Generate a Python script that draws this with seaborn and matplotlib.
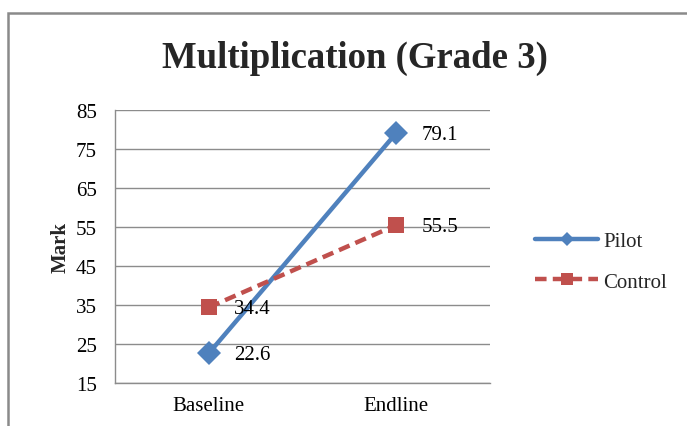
import matplotlib
matplotlib.use("Agg")
import matplotlib.pyplot as plt
import seaborn as sns
import pandas as pd
from matplotlib.patches import Rectangle
from matplotlib.lines import Line2D

categories = ["Baseline", "Endline"]
pilot = [22.6, 79.1]
control = [34.4, 55.5]
y_ticks = [15, 25, 35, 45, 55, 65, 75, 85]

sns.set_theme(style="white")
plt.rcParams["font.family"] = ["Liberation Serif", "DejaVu Serif"]

df = pd.DataFrame({
    "period": categories * 2,
    "mark": pilot + control,
    "group": ["Pilot"] * 2 + ["Control"] * 2,
})

fig = plt.figure(figsize=(6.87, 4.27), dpi=100)
ax = fig.add_axes([0.1674, 0.1007, 0.5458, 0.6393])

palette = {"Pilot": "#4F81BD", "Control": "#C0504D"}
sns.lineplot(data=df, x="period", y="mark", hue="group", style="group",
             palette=palette,
             markers={"Pilot": "D", "Control": "s"},
             dashes={"Pilot": "", "Control": (2.6, 1.4)},
             markersize=12, linewidth=3.2, markeredgewidth=0,
             sort=False, ax=ax, legend=False, zorder=3)

ax.set_xlim(-0.5, 1.5)
ax.set_ylim(15, 85)
ax.set_yticks(y_ticks)
ax.set_yticklabels([str(t) for t in y_ticks])
ax.tick_params(axis="both", length=0, labelsize=15, colors="#000000")
ax.tick_params(axis="y", pad=13)
ax.tick_params(axis="x", pad=9)
ax.set_xlabel("")
ax.set_ylabel("Mark", fontsize=15, fontweight="bold", labelpad=4)
ax.yaxis.grid(True, color="#8c8c8c", linewidth=1.0)
ax.xaxis.grid(False)
for side in ["top", "right"]:
    ax.spines[side].set_visible(False)
for side in ["left", "bottom"]:
    ax.spines[side].set_color("#8c8c8c")
    ax.spines[side].set_linewidth(1.0)

# value labels beside each point
for series in (pilot, control):
    for i, v in enumerate(series):
        ax.annotate(f"{v:.1f}", (i, v), xytext=(18, -1), textcoords="offset points",
                    va="center", ha="left", fontsize=15, color="#000000", zorder=4)

fig.text(0.517, 0.864, "Multiplication (Grade 3)", ha="center", va="center",
         fontsize=26.5, fontweight="bold")

# legend
handles = [
    Line2D([0], [0], color=palette["Pilot"], lw=3.2, marker="D", markersize=7,
           markeredgewidth=0),
    Line2D([0], [0], color=palette["Control"], lw=3.2, marker="s", markersize=9,
           markeredgewidth=0, dashes=(2.6, 1.4)),
]
fig.legend(handles, ["Pilot", "Control"], loc="center left",
           bbox_to_anchor=(0.752, 0.385), frameon=False, fontsize=15,
           handlelength=3.0, handletextpad=0.25, labelspacing=1.0)

# chart frame
fig.patches.append(Rectangle((8 / 687, -0.1), 1.2, 1 - 14 / 427 + 0.1,
                             transform=fig.transFigure, fill=False,
                             edgecolor="#8a8a8a", linewidth=1.8))

fig.savefig("out.png", dpi=100)
